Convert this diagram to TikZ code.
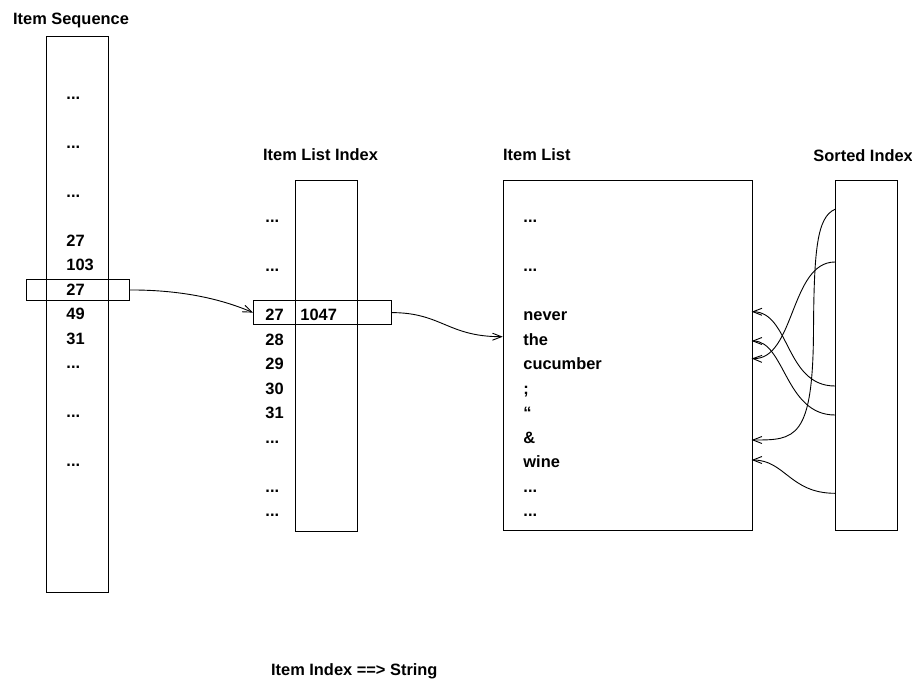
\documentclass[tikz,border=0pt]{standalone}
\usepackage{fontspec}
\setmainfont{Liberation Sans}
\usetikzlibrary{arrows.meta,positioning}
\newcommand{\threedots}{...}

\begin{document}
\begin{tikzpicture}[x=1pt,y=-1pt,line width=0.9pt,
        txt/.style={anchor=base west,inner sep=0pt,font=\fontsize{16.4}{19}\selectfont\bfseries},
        col/.style={draw,inner sep=0pt,anchor=north west},
        ptr/.style={-{Straight Barb[length=9pt,width=7pt]}}]
        \useasboundingbox (0,0) rectangle (912,680);
        % titles
        \node[txt] (tseq) at (12.7,24) {Item Sequence};
        \node[txt] (tidx) at (262.7,160) {Item List Index};
        \node[txt] (tlst) at (502.7,160) {Item List};
        \node[txt] (tsrt) at (813,161.7) {Sorted Index};
        \node[txt] (tmap) at (270.7,675) {Item Index ==> String};
        % columns
        \node[col,minimum width=62.3pt,minimum height=556.3pt] (seq) at (46,35.7) {};
        \node[col,minimum width=62pt,minimum height=350.5pt] (idx) at (295,180) {};
        \node[col,minimum width=249pt,minimum height=350pt] (lst) at (502.7,180) {};
        \node[col,minimum width=62pt,minimum height=350pt] (srt) at (835,180) {};
        % highlighted entries
        \node[col,minimum width=103.6pt,minimum height=21pt] (seqhl) at (25.7,279) {};
        \node[col,minimum width=137.7pt,minimum height=24.3pt] (idxhl) at (253,300) {};
        % entries
        \foreach \k/\t [count=\i] in {0/\threedots,2/\threedots,4/\threedots,6/27,7/103,8/27,9/49,10/31,11/\threedots,13/\threedots,15/\threedots}
            \node[txt] (seq\i) at (66,99+24.5*\k) {\t};
        \foreach \k/\t [count=\i] in {0/\threedots,2/\threedots,4/27,5/28,6/29,7/30,8/31,9/\threedots,11/\threedots,12/\threedots}
            \node[txt] (idx\i) at (265,222.5+24.5*\k) {\t};
        \node[txt] (str) at (300,320.5) {1047};
        \foreach \k/\t [count=\i] in {0/\threedots,2/\threedots,4/never,5/the,6/cucumber,7/{;},8/{``},9/\&,10/wine,11/\threedots,12/\threedots}
            \node[txt] (lst\i) at (523,222.5+24.5*\k) {\t};
        % pointers
        \coordinate (lin) at (502.7,336.7);
        \draw[ptr] (seqhl.east) .. controls +(56,0) and +(-28,-12) .. (idxhl.west);
        \draw[ptr] (idxhl.east) .. controls +(50,0) and +(-55,0) .. (lin);
        \foreach \i/\y in {1/209.3,2/262,3/386,4/415,5/493.3} \coordinate (s\i) at (835,\y);
        \foreach \i/\y in {1/311.7,2/341,3/358.5,4/440,5/460} \coordinate (t\i) at (751.7,\y);
        \draw[ptr] (s1) .. controls (817,217) and (814,250) .. (813.5,330) .. controls (813,440) and (795,440) .. (t4);
        \draw[ptr] (s2) .. controls (790,262) and (795,360) .. (t3);
        \draw[ptr] (s3) .. controls (785,386) and (790,312) .. (t1);
        \draw[ptr] (s4) .. controls (785,415) and (785,341) .. (t2);
        \draw[ptr] (s5) .. controls (790,493.3) and (785,460) .. (t5);
    \end{tikzpicture}
\end{document}
